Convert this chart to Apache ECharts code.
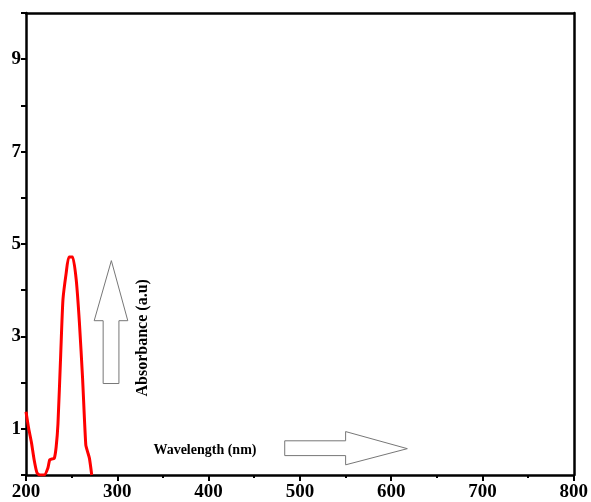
<!DOCTYPE html>
<html><head><meta charset="utf-8">
<script src="https://cdn.jsdelivr.net/npm/echarts@6/dist/echarts.min.js"></script>
<style>html,body{margin:0;padding:0;background:#fff}#c{width:591px;height:502px}</style>
</head><body><div id="c"></div>
<script>
// Spectrum data
const wavelength = [200, 203, 206, 209, 212, 215, 220, 224, 226, 229, 231, 233, 235, 238, 240.5, 244, 247, 251, 255, 258.5, 262, 265.5, 267.5, 269.5, 272];
const absorbance = [1.37, 1.0, 0.7, 0.32, 0.05, 0, 0, 0.15, 0.33, 0.35, 0.36, 0.6, 1.1, 2.6, 3.8, 4.37, 4.72, 4.72, 4.23, 3.3, 2.08, 0.65, 0.5, 0.36, 0];
// Axis ticks
const xTickValues = [200, 300, 400, 500, 600, 700, 800];
const yTickLabels = [1, 3, 5, 7, 9];
// Texts
const yLabelText = 'Absorbance (a.u)';
const xLabelText = 'Wavelength (nm)';
// Annotation arrows (data coordinates)
const upArrow = [[293.5, 4.64], [311.5, 3.34], [301.8, 3.34], [301.8, 1.98], [284.5, 1.98], [284.5, 3.34], [274.7, 3.34]];
const rightArrow = [[617.7, 0.57], [550.1, 0.94], [550.1, 0.74], [483.4, 0.74], [483.4, 0.42], [550.1, 0.42], [550.1, 0.22]];

const FONT = "'Liberation Serif', 'Times New Roman', serif";
const chart = echarts.init(document.getElementById('c'), null, {renderer: 'canvas'});
const seriesData = wavelength.map((w, i) => [w, absorbance[i]]);
const axisLine = {show: true, onZero: false, lineStyle: {color: '#000', width: 2.5}};

chart.setOption({
  animation: false,
  backgroundColor: '#fff',
  grid: {left: 26, right: 11, top: 13, bottom: 25, containLabel: false},
  xAxis: [{
    type: 'value', min: xTickValues[0], max: xTickValues[xTickValues.length - 1], interval: 100,
    axisLine: axisLine,
    axisTick: {show: true, inside: false, length: 6, lineStyle: {color: '#000', width: 2}},
    minorTick: {show: true, splitNumber: 2, length: 3, lineStyle: {color: '#000', width: 2}},
    axisLabel: {show: true, margin: 8, color: '#000', fontFamily: FONT, fontWeight: 'bold', fontSize: 19},
    splitLine: {show: false}
  }, {
    type: 'value', position: 'top', min: 200, max: 800,
    axisLine: axisLine, axisTick: {show: false}, axisLabel: {show: false}, splitLine: {show: false}
  }],
  yAxis: [{
    type: 'value', min: 0, max: 10, interval: 1,
    axisLine: axisLine,
    axisTick: {show: true, inside: false, length: 5, lineStyle: {color: '#000', width: 2}},
    axisLabel: {show: true, margin: 5, color: '#000', fontFamily: FONT, fontWeight: 'bold', fontSize: 19,
      formatter: v => yTickLabels.indexOf(v) >= 0 ? String(v) : ''},
    splitLine: {show: false}
  }, {
    type: 'value', position: 'right', min: 0, max: 10,
    axisLine: axisLine, axisTick: {show: false}, axisLabel: {show: false}, splitLine: {show: false}
  }],
  series: [{
    type: 'line', data: seriesData, showSymbol: false, smooth: 0.2,
    lineStyle: {color: '#ff0000', width: 3}, clip: true
  }]
});

function toPx(pts) {
  return pts.map(p => chart.convertToPixel({xAxisIndex: 0, yAxisIndex: 0}, p));
}
const xMid = chart.convertToPixel({xAxisIndex: 0, yAxisIndex: 0}, [396, 0.54]);
const yMid = chart.convertToPixel({xAxisIndex: 0, yAxisIndex: 0}, [328, 2.97]);
chart.setOption({
  graphic: [
    {type: 'polygon', shape: {points: toPx(upArrow)}, style: {fill: '#fff', stroke: '#777', lineWidth: 1}},
    {type: 'polygon', shape: {points: toPx(rightArrow)}, style: {fill: '#fff', stroke: '#777', lineWidth: 1}},
    {type: 'text', x: yMid[0], y: yMid[1], rotation: Math.PI / 2,
      style: {text: yLabelText, fill: '#000', font: "bold 16px 'Liberation Serif', serif", align: 'center', verticalAlign: 'middle'}},
    {type: 'text', x: xMid[0], y: xMid[1],
      style: {text: xLabelText, fill: '#000', font: "bold 14px 'Liberation Serif', serif", align: 'center', verticalAlign: 'middle'}}
  ]
});
</script>
</body></html>
